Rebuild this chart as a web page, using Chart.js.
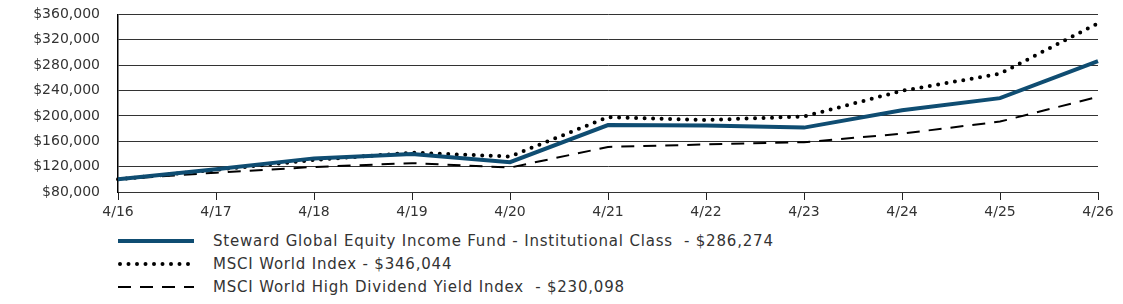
<!DOCTYPE html>
<html>
<head>
<meta charset="utf-8">
<script src="https://cdn.jsdelivr.net/npm/chart.js@4.4.1/dist/chart.umd.min.js"></script>
<style>
  body { margin: 0; background: #fff; font-family: "DejaVu Sans", sans-serif; overflow: hidden; }
  #wrap { position: relative; width: 1123px; height: 237px; margin-top: -12px; }
  #legend { position: absolute; left: 118px; top: 229px; }
  .row { display: flex; align-items: center; height: 23px; color: #333; font-size: 15px; letter-spacing: 0.8px; white-space: pre; }
  .row svg { width: 78px; height: 10px; margin-right: 17px; }
</style>
</head>
<body>
<div id="wrap"><canvas id="myChart"></canvas></div>
<div id="legend"></div>
<script>
// Chart data
const years = ["4/16", "4/17", "4/18", "4/19", "4/20", "4/21", "4/22", "4/23", "4/24", "4/25", "4/26"];
const fundValues = [100000, 116000, 133000, 140000, 127000, 185500, 185000, 181500, 209000, 228000, 286274];
const worldValues = [100000, 115000, 130500, 142000, 136000, 198000, 193500, 199000, 239500, 266500, 346044];
const dividendValues = [100000, 110500, 119500, 125500, 118500, 151000, 155000, 158500, 172000, 191000, 230098];
const seriesNames = [
  "Steward Global Equity Income Fund - Institutional Class  - $286,274",
  "MSCI World Index - $346,044",
  "MSCI World High Dividend Yield Index  - $230,098",
];
const yTicks = [80000, 120000, 160000, 200000, 240000, 280000, 320000, 360000];

const datasets = [
  {
    label: seriesNames[0],
    data: fundValues,
    borderColor: "#0f4d72",
    borderWidth: 4,
    order: 0,
  },
  {
    label: seriesNames[1],
    data: worldValues,
    borderColor: "#000",
    borderWidth: 4,
    borderDash: [0, 8.5],
    borderCapStyle: "round",
    order: 1,
  },
  {
    label: seriesNames[2],
    data: dividendValues,
    borderColor: "#000",
    borderWidth: 2,
    borderDash: [13, 9],
    order: 2,
  },
];

const ctx = document.getElementById("myChart").getContext("2d");
new Chart(ctx, {
  type: "line",
  data: { labels: years, datasets: datasets },
  options: {
    responsive: true,
    maintainAspectRatio: false,
    animation: false,
    elements: { point: { radius: 0 }, line: { tension: 0 } },
    layout: { padding: { top: 5, right: 25 } },
    plugins: { legend: { display: false }, tooltip: { enabled: false } },
    scales: {
      x: {
        offset: false,
        grid: { drawOnChartArea: false, color: "#222", tickLength: 8 },
        border: { display: false },
        ticks: { color: "#333", font: { family: "DejaVu Sans", size: 14 }, padding: 4, maxRotation: 0 },
        afterFit: (scale) => { scale.height = 33; },
      },
      y: {
        min: 80000,
        max: 360000,
        afterBuildTicks: (scale) => { scale.ticks = yTicks.map((v) => ({ value: v })); },
        grid: { color: "#333", lineWidth: 1, drawTicks: false },
        border: { color: "#000", width: 1.5 },
        ticks: {
          color: "#333",
          padding: 18,
          font: { family: "DejaVu Sans", size: 14 },
          callback: (v) => "$" + v.toLocaleString("en-US"),
        },
        afterFit: (scale) => { scale.width = 118; },
      },
    },
  },
});

// Build the legend below the chart
const legend = document.getElementById("legend");
datasets.forEach((ds) => {
  const row = document.createElement("div");
  row.className = "row";
  const dash = ds.borderDash ? ds.borderDash.join(" ") : "none";
  const cap = ds.borderCapStyle || "butt";
  row.innerHTML =
    '<svg viewBox="0 0 78 10"><line x1="' + (cap === "round" ? 2 : 0) + '" y1="5" x2="76" y2="5" stroke="' + ds.borderColor +
    '" stroke-width="' + ds.borderWidth + '" stroke-dasharray="' + dash + '" stroke-linecap="' + cap + '"/></svg>' +
    "<span>" + ds.label + "</span>";
  legend.appendChild(row);
});
</script>
</body>
</html>
